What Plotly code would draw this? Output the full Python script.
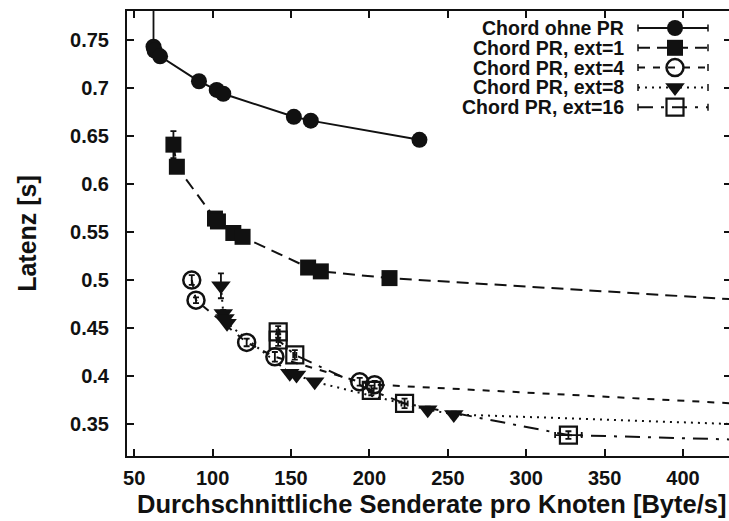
import plotly.graph_objects as go

# Chord ohne PR
ohne_x = [62.3, 63.0, 66.5, 91.3, 102.6, 106.8, 151.8, 162.6, 231.9]
ohne_y = [0.743, 0.739, 0.733, 0.707, 0.698, 0.694, 0.670, 0.666, 0.646]
ohne_eplus = [0.06, 0.003, 0.003, 0.002, 0.002, 0.002, 0.002, 0.002, 0.002]
ohne_eminus = [0.003, 0.003, 0.003, 0.002, 0.002, 0.002, 0.002, 0.002, 0.002]

# Chord PR, ext=1 (last point lies beyond the x range)
ext1_x = [75.0, 77.2, 101.5, 103.4, 113.2, 119.1, 160.9, 169.0, 212.8, 520.0]
ext1_y = [0.641, 0.618, 0.564, 0.561, 0.549, 0.545, 0.513, 0.509, 0.502, 0.471]
ext1_err = [0.014, 0.004, 0.004, 0.004, 0.003, 0.003, 0.003, 0.003, 0.003, 0.003]

# Chord PR, ext=4
ext4_x = [86.7, 89.4, 121.7, 139.7, 193.8, 203.3, 520.0]
ext4_y = [0.500, 0.479, 0.435, 0.420, 0.394, 0.391, 0.364]
ext4_err = [0.005, 0.003, 0.004, 0.005, 0.004, 0.004, 0.003]

# Chord PR, ext=8
ext8_x = [105.3, 106.8, 107.9, 109.2, 149.2, 153.5, 165.1, 237.2, 253.8, 520.0]
ext8_y = [0.494, 0.465, 0.460, 0.455, 0.403, 0.401, 0.394, 0.365, 0.360, 0.345]
ext8_err = [0.013, 0.004, 0.004, 0.004, 0.003, 0.003, 0.003, 0.003, 0.003, 0.003]

# Chord PR, ext=16
ext16_x = [141.8, 141.8, 152.4, 201.2, 222.4, 326.9, 520.0]
ext16_y = [0.446, 0.4375, 0.422, 0.385, 0.3715, 0.3385, 0.330]
ext16_err = [0.006, 0.006, 0.005, 0.005, 0.005, 0.004, 0.004]
ext16_xerr = [1.0, 1.0, 1.0, 1.5, 2.0, 8.5, 2.0]

legend_names = ["Chord ohne PR", "Chord PR, ext=1", "Chord PR, ext=4",
                "Chord PR, ext=8", "Chord PR, ext=16"]

x_ticks = [50, 100, 150, 200, 250, 300, 350, 400]
y_ticks = [0.35, 0.4, 0.45, 0.5, 0.55, 0.6, 0.65, 0.7, 0.75]

x_title = "Durchschnittliche Senderate pro Knoten [Byte/s]"
y_title = "Latenz [s]"

FONT = "Liberation Sans"
BLACK = "#111111"

styles = [
    dict(dash="solid", symbol="circle", size=16, lw=0),
    dict(dash="12px,7px", symbol="square", size=16, lw=0),
    dict(dash="7px,8px", symbol="circle-open", size=17, lw=2.5),
    dict(dash="2px,5px", symbol="triangle-down", size=17, lw=0),
    dict(dash="15px,8px,3px,8px", symbol="square-open", size=17, lw=2.2),
]

series = [
    (ohne_x, ohne_y, dict(type="data", array=ohne_eplus, arrayminus=ohne_eminus), None),
    (ext1_x, ext1_y, dict(type="data", array=ext1_err), None),
    (ext4_x, ext4_y, dict(type="data", array=ext4_err), None),
    (ext8_x, ext8_y, dict(type="data", array=ext8_err), None),
    (ext16_x, ext16_y, dict(type="data", array=ext16_err),
     dict(type="data", array=ext16_xerr)),
]

fig = go.Figure()

for (xs, ys, ey, ex), st, name in zip(series, styles, legend_names):
    ey = dict(ey, color=BLACK, thickness=1.8, width=3)
    kw = {}
    if ex is not None:
        kw["error_x"] = dict(ex, color=BLACK, thickness=1.8, width=3)
    fig.add_trace(go.Scatter(
        x=xs, y=ys, mode="lines+markers", name=name, showlegend=False,
        line=dict(color=BLACK, width=2, dash=st["dash"]),
        marker=dict(symbol=st["symbol"], size=st["size"], color=BLACK,
                    line=dict(color=BLACK, width=st["lw"])),
        error_y=ey, cliponaxis=True, **kw))

# Key drawn in the upper right corner on a pixel-based overlay axis pair
L, R, T, B = 127, 729, 11, 456
row_y = [28.0, 47.8, 67.6, 87.4, 107.2]
x0, x1, xm, xt = 638, 708, 675, 626
for name, st, yy in zip(legend_names, styles, row_y):
    fig.add_trace(go.Scatter(
        x=[x0, x1], y=[yy, yy], mode="lines", xaxis="x2", yaxis="y2",
        showlegend=False, hoverinfo="skip",
        line=dict(color=BLACK, width=2, dash=st["dash"])))
    fig.add_trace(go.Scatter(
        x=[x0, x0, None, x1, x1], y=[yy - 3.5, yy + 3.5, None, yy - 3.5, yy + 3.5],
        mode="lines", xaxis="x2", yaxis="y2", showlegend=False,
        hoverinfo="skip", line=dict(color=BLACK, width=1.5)))
    fig.add_trace(go.Scatter(
        x=[xm], y=[yy], mode="markers", xaxis="x2", yaxis="y2",
        showlegend=False, hoverinfo="skip",
        marker=dict(symbol=st["symbol"], size=st["size"], color=BLACK,
                    line=dict(color=BLACK, width=st["lw"]))))
    fig.add_annotation(x=xt, y=yy, xref="x2", yref="y2", text=name,
                       showarrow=False, xanchor="right", yanchor="middle",
                       font=dict(family=FONT, size=19.5, color=BLACK, weight="bold"))

# x-axis title placed below the tick labels (paper coords of the plot area)
fig.add_annotation(x=(431 - L) / (R - L), y=-(504 - B) / (B - T),
                   xref="paper", yref="paper", text=x_title,
                   showarrow=False, xanchor="center", yanchor="middle",
                   font=dict(family=FONT, size=25.5, color=BLACK, weight="bold"))

tick_style = dict(ticklen=7, tickwidth=1.5, tickcolor=BLACK,
                  showgrid=False, zeroline=False, automargin=False)

fig.update_layout(
    width=729, height=521,
    margin=dict(l=L, r=729 - R, t=T, b=521 - B, autoexpand=False),
    plot_bgcolor="white", paper_bgcolor="white",
    showlegend=False,
    font=dict(family=FONT, color=BLACK),
    xaxis=dict(
        range=[45.4, 429.3], tickvals=x_ticks, ticktext=[str(v) for v in x_ticks],
        ticks="inside", showline=True, linewidth=2, linecolor=BLACK,
        mirror="ticks", ticklabelstandoff=3, **tick_style,
        tickfont=dict(family=FONT, size=20, color=BLACK, weight="bold"),
    ),
    yaxis=dict(
        range=[0.3167, 0.7802], tickvals=y_ticks,
        ticktext=[f"{v:g}" for v in y_ticks],
        ticks="inside", showline=True, linewidth=2, linecolor=BLACK,
        mirror=False, ticklabelstandoff=12, **tick_style,
        tickfont=dict(family=FONT, size=20, color=BLACK, weight="bold"),
        title=dict(text=y_title,
                   font=dict(family=FONT, size=25, color=BLACK, weight="bold"),
                   standoff=26),
    ),
    yaxis3=dict(
        overlaying="y", side="right", matches="y", tickvals=y_ticks,
        showticklabels=False, ticks="inside", showline=False,
        ticklen=5, tickwidth=1.5, tickcolor=BLACK,
        showgrid=False, zeroline=False, automargin=False,
    ),
    xaxis2=dict(overlaying="x", range=[L, R], visible=False),
    yaxis2=dict(overlaying="y", range=[B, T], visible=False),
)

# empty trace so the right-hand tick axis is rendered
fig.add_trace(go.Scatter(x=[None], y=[None], yaxis="y3", showlegend=False))

fig.write_html("out.html")
